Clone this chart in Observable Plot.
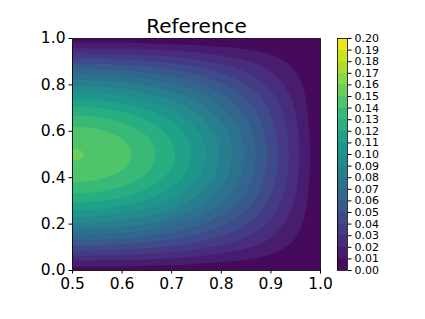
<!DOCTYPE html>
<html><head><meta charset="utf-8">
<script src="https://cdn.jsdelivr.net/npm/d3@7"></script>
<script src="https://cdn.jsdelivr.net/npm/@observablehq/plot@0.6"></script>
<style>
body{margin:0;background:#fff;}
#wrap{position:relative;width:425px;height:319px;font-family:"DejaVu Sans",sans-serif;background:#fff;}
#main{position:absolute;left:0;top:0;}
#cbar{position:absolute;left:330px;top:0;}
</style></head><body><div id="wrap"><div id="main"></div><div id="cbar"></div></div>
<script>
const title = "Reference";
const xValues = [0.5, 0.55, 0.6, 0.65, 0.7, 0.75, 0.8, 0.85, 0.9, 0.95, 1.0];
const yValues = [0, 0.05, 0.1, 0.15, 0.2, 0.25, 0.3, 0.35, 0.4, 0.45, 0.5,
                 0.55, 0.6, 0.65, 0.7, 0.75, 0.8, 0.85, 0.9, 0.95, 1.0];
// values, one row per y (bottom to top), columns follow xValues
const gridRows = [
  [0,0,0,0,0,0,0,0,0,0,0],
  [0.0237,0.0234,0.0225,0.0211,0.0192,0.0168,0.0139,0.0108,0.0073,0.0037,0],
  [0.0468,0.0462,0.0445,0.0417,0.0379,0.0331,0.0275,0.0213,0.0145,0.0073,0],
  [0.0688,0.0679,0.0654,0.0613,0.0556,0.0486,0.0404,0.0312,0.0213,0.0108,0],
  [0.0891,0.0880,0.0847,0.0793,0.0720,0.0630,0.0523,0.0404,0.0275,0.0139,0],
  [0.1071,0.1058,0.1019,0.0955,0.0867,0.0758,0.0630,0.0486,0.0331,0.0168,0],
  [0.1226,0.1211,0.1166,0.1092,0.0992,0.0867,0.0720,0.0556,0.0379,0.0192,0],
  [0.1350,0.1333,0.1284,0.1203,0.1092,0.0955,0.0793,0.0613,0.0417,0.0211,0],
  [0.1441,0.1423,0.1370,0.1284,0.1166,0.1019,0.0847,0.0654,0.0445,0.0225,0],
  [0.1496,0.1478,0.1423,0.1333,0.1211,0.1058,0.0880,0.0679,0.0462,0.0234,0],
  [0.1515,0.1496,0.1441,0.1350,0.1226,0.1071,0.0891,0.0688,0.0468,0.0237,0],
  [0.1496,0.1478,0.1423,0.1333,0.1211,0.1058,0.0880,0.0679,0.0462,0.0234,0],
  [0.1441,0.1423,0.1370,0.1284,0.1166,0.1019,0.0847,0.0654,0.0445,0.0225,0],
  [0.1350,0.1333,0.1284,0.1203,0.1092,0.0955,0.0793,0.0613,0.0417,0.0211,0],
  [0.1226,0.1211,0.1166,0.1092,0.0992,0.0867,0.0720,0.0556,0.0379,0.0192,0],
  [0.1071,0.1058,0.1019,0.0955,0.0867,0.0758,0.0630,0.0486,0.0331,0.0168,0],
  [0.0891,0.0880,0.0847,0.0793,0.0720,0.0630,0.0523,0.0404,0.0275,0.0139,0],
  [0.0688,0.0679,0.0654,0.0613,0.0556,0.0486,0.0404,0.0312,0.0213,0.0108,0],
  [0.0468,0.0462,0.0445,0.0417,0.0379,0.0331,0.0275,0.0213,0.0145,0.0073,0],
  [0.0237,0.0234,0.0225,0.0211,0.0192,0.0168,0.0139,0.0108,0.0073,0.0037,0],
  [0,0,0,0,0,0,0,0,0,0,0]
];
const levels = [0,0.01,0.02,0.03,0.04,0.05,0.06,0.07,0.08,0.09,0.10,
                0.11,0.12,0.13,0.14,0.15,0.16,0.17,0.18,0.19,0.20];
const xTicks = [0.5, 0.6, 0.7, 0.8, 0.9, 1.0];
const yTicks = [0.0, 0.2, 0.4, 0.6, 0.8, 1.0];
const cbTicks = levels;

const samples = [];
yValues.forEach((y, j) => xValues.forEach((x, i) => samples.push({x, y, v: gridRows[j][i]})));
const bands = levels.slice(0, -1).map((lo, i) => ({lo, hi: levels[i + 1]}));

const color = {type: "linear", scheme: "viridis", domain: [-0.005, 0.195]};

const main = Plot.plot({
  width: 425, height: 319,
  marginLeft: 72, marginRight: 105, marginTop: 38, marginBottom: 49,
  style: {fontFamily: "DejaVu Sans", fontSize: "15px", color: "black", background: "white"},
  x: {domain: [0.5, 1], label: null},
  y: {domain: [0, 1], label: null},
  color,
  marks: [
    Plot.contour(samples, {x: "x", y: "y", fill: "v", interpolate: "barycentric",
      thresholds: levels, x1: 0.5, x2: 1, y1: 0, y2: 1, blur: 2}),
    Plot.frame({stroke: "black", strokeWidth: 0.8}),
    Plot.axisX({ticks: xTicks, tickFormat: d3.format(".1f"), tickSize: 3.5, tickPadding: 3.5, label: null, fontSize: 15.5}),
    Plot.axisY({ticks: yTicks, tickFormat: d3.format(".1f"), tickSize: 3.5, tickPadding: 3.5, label: null, fontSize: 15.5}),
    Plot.text([title], {frameAnchor: "top", dy: -6, lineAnchor: "bottom", fontSize: 20, text: d => d, fill: "black"})
  ]
});
document.getElementById("main").appendChild(main);

const cbar = Plot.plot({
  width: 95, height: 319,
  marginLeft: 7, marginRight: 78, marginTop: 38, marginBottom: 49,
  style: {fontFamily: "DejaVu Sans", fontSize: "11px", color: "black", background: "transparent"},
  x: {domain: [0, 1], axis: null},
  y: {domain: [0, 0.2], label: null},
  color,
  marks: [
    Plot.rect(bands, {x1: 0, x2: 1, y1: "lo", y2: 0.2, fill: "lo"}),
    Plot.frame({stroke: "black", strokeWidth: 0.8}),
    Plot.axisY({anchor: "right", ticks: cbTicks, tickFormat: d3.format(".2f"), tickSize: 3.5, tickPadding: 3.5, label: null, fontSize: 11})
  ]
});
document.getElementById("cbar").appendChild(cbar);
</script></body></html>
